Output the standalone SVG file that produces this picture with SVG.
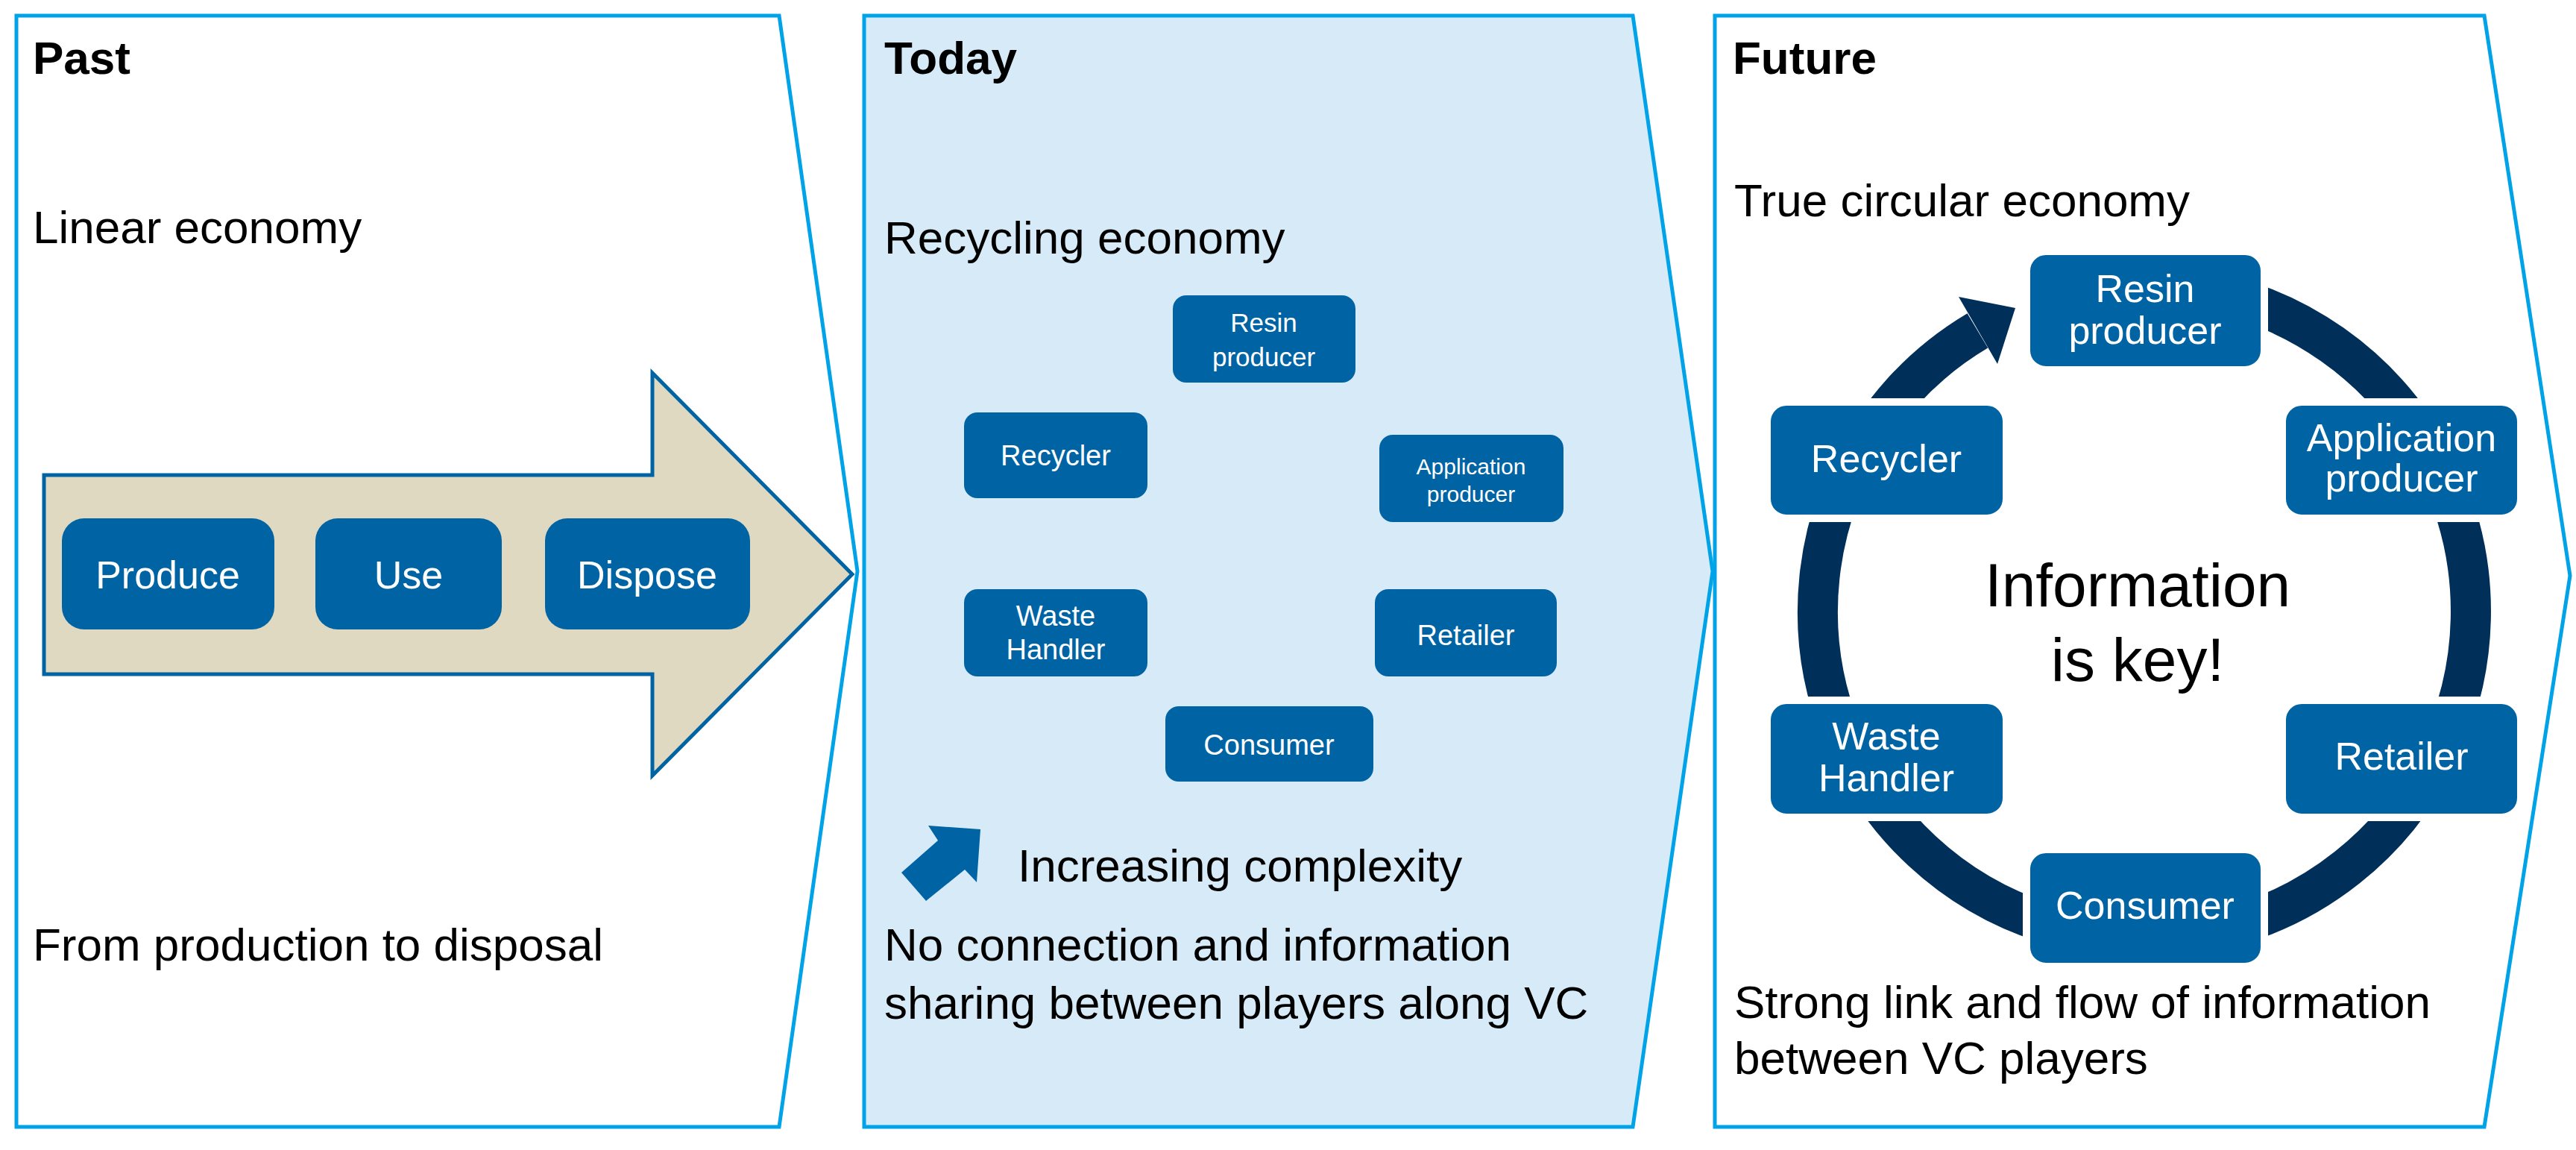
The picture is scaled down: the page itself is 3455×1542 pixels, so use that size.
<svg xmlns="http://www.w3.org/2000/svg" width="3455" height="1542" viewBox="0 0 3455 1542">
<style>
text{font-family:"Liberation Sans",Arial,sans-serif;}
.panel{stroke:#00a3e8;stroke-width:5;stroke-linejoin:miter;}
.head{font-size:62px;font-weight:bold;fill:#000;}
.body{font-size:62px;fill:#000;}
.node{fill:#0064a4;}
.nt{fill:#fff;text-anchor:middle;}
.fnode{fill:#0064a4;stroke:#fff;stroke-width:10;}
</style>
<rect width="3455" height="1542" fill="#fff"/>
<g id="panel-past">
<polygon class="panel" fill="#fff" points="22,21 1045,21 1150,766 1045,1511 22,1511"/>
<text class="head" x="44" y="99">Past</text>
<text class="body" x="44" y="326">Linear economy</text>
<text class="body" x="44" y="1288">From production to disposal</text>
<polygon points="59,637 875,637 875,500 1143,770 875,1040 875,904 59,904" fill="#e0d9c1" stroke="#0064a4" stroke-width="5"/>
</g>
<g id="panel-today">
<polygon class="panel" fill="#d6eaf8" points="1159,21 2190,21 2297,766 2190,1511 1159,1511"/>
<text class="head" x="1186" y="99">Today</text>
<text class="body" x="1186" y="340">Recycling economy</text>
<text class="body" x="1365" y="1182">Increasing complexity</text>
<text class="body" x="1186" y="1288">No connection and information</text>
<text class="body" x="1186" y="1366">sharing between players along VC</text>
<polygon points="1315,1112 1245,1107 1258,1127 1209,1170 1242,1208 1294,1166 1310,1183" fill="#0064a4"/>
</g>
<g id="panel-future">
<polygon class="panel" fill="#fff" points="2300,21 3332,21 3447,772 3332,1511 2300,1511"/>
<text class="head" x="2324" y="99">Future</text>
<text class="body" x="2326" y="290">True circular economy</text>
<text class="body" x="2326" y="1365">Strong link and flow of information</text>
<text class="body" x="2326" y="1440">between VC players</text>
</g>
<g id="connectors">
<path d="M2652.4,443.4 A438,438 0 1 0 2952,388.7" fill="none" stroke="#00305a" stroke-width="54"/>
<polygon points="2703,413 2627,398 2679,488" fill="#00305a"/>
</g>
<g id="past-produce"><rect class="node" x="83" y="695" width="285" height="149" rx="30"/><text class="nt" x="225" y="789" font-size="52">Produce</text></g>
<g id="past-use"><rect class="node" x="423" y="695" width="250" height="149" rx="30"/><text class="nt" x="548" y="789" font-size="52">Use</text></g>
<g id="past-dispose"><rect class="node" x="731" y="695" width="275" height="149" rx="30"/><text class="nt" x="868" y="789" font-size="52">Dispose</text></g>
<g id="today-resin"><rect class="node" x="1573" y="396" width="245" height="117" rx="18"/><text class="nt" x="1695" y="445" font-size="35">Resin</text><text class="nt" x="1695" y="491" font-size="35">producer</text></g>
<g id="today-recycler"><rect class="node" x="1293" y="553" width="246" height="115" rx="18"/><text class="nt" x="1416" y="624" font-size="38">Recycler</text></g>
<g id="today-application"><rect class="node" x="1850" y="583" width="247" height="117" rx="18"/><text class="nt" x="1973" y="636" font-size="30">Application</text><text class="nt" x="1973" y="673" font-size="30">producer</text></g>
<g id="today-waste"><rect class="node" x="1293" y="790" width="246" height="117" rx="18"/><text class="nt" x="1416" y="839" font-size="38">Waste</text><text class="nt" x="1416" y="884" font-size="38">Handler</text></g>
<g id="today-retailer"><rect class="node" x="1844" y="790" width="244" height="117" rx="18"/><text class="nt" x="1966" y="865" font-size="38">Retailer</text></g>
<g id="today-consumer"><rect class="node" x="1563" y="947" width="279" height="101" rx="18"/><text class="nt" x="1702" y="1012" font-size="38">Consumer</text></g>
<g id="future-resin"><rect class="fnode" x="2718" y="337" width="319" height="159" rx="26"/><text class="nt" x="2877" y="405" font-size="52">Resin</text><text class="nt" x="2877" y="461" font-size="52">producer</text></g>
<g id="future-recycler"><rect class="fnode" x="2370" y="539" width="321" height="156" rx="26"/><text class="nt" x="2530" y="633" font-size="52">Recycler</text></g>
<g id="future-application"><rect class="fnode" x="3061" y="539" width="320" height="156" rx="26"/><text class="nt" x="3221" y="605" font-size="52">Application</text><text class="nt" x="3221" y="659" font-size="52">producer</text></g>
<g id="future-waste"><rect class="fnode" x="2370" y="939" width="321" height="157" rx="26"/><text class="nt" x="2530" y="1005" font-size="52">Waste</text><text class="nt" x="2530" y="1061" font-size="52">Handler</text></g>
<g id="future-retailer"><rect class="fnode" x="3061" y="939" width="320" height="157" rx="26"/><text class="nt" x="3221" y="1032" font-size="52">Retailer</text></g>
<g id="future-consumer"><rect class="fnode" x="2718" y="1139" width="319" height="157" rx="26"/><text class="nt" x="2877" y="1232" font-size="52">Consumer</text></g>
<g id="info-text"><text x="2867" y="813" font-size="82" text-anchor="middle" fill="#000">Information</text><text x="2867" y="913" font-size="82" text-anchor="middle" fill="#000">is key!</text></g>
</svg>
